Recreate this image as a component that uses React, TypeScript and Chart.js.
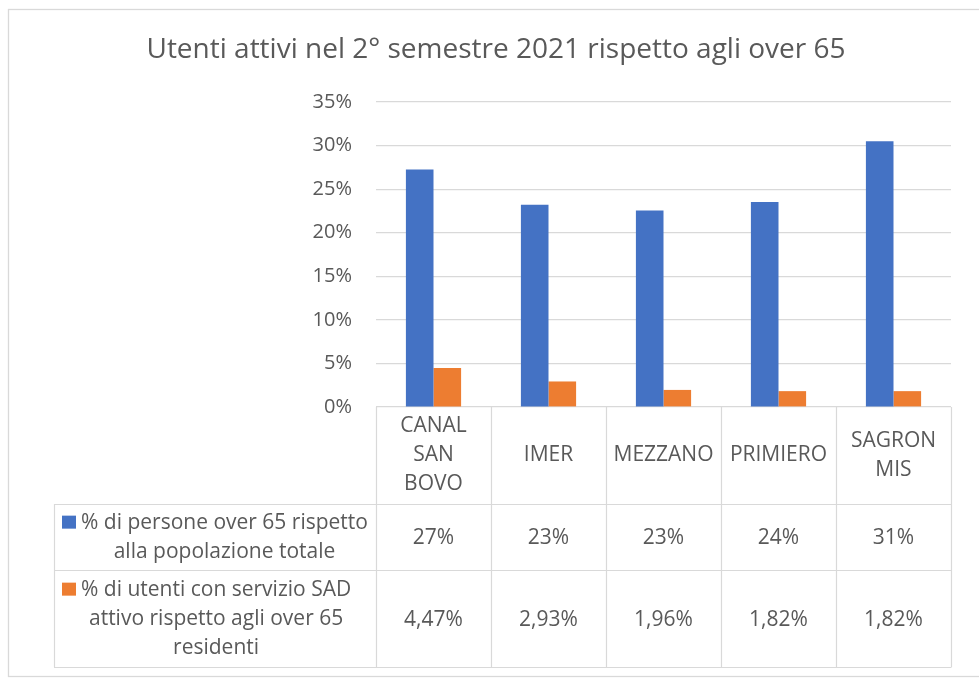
import React, { useEffect, useRef } from "react";
import { Chart, registerables } from "chart.js";

Chart.register(...registerables);

const TITLE = "Utenti attivi nel 2° semestre 2021 rispetto agli over 65";
const categories: string[][] = [["CANAL", "SAN", "BOVO"], ["IMER"], ["MEZZANO"], ["PRIMIERO"], ["SAGRON", "MIS"]];
const over65Share = [27.25, 23.2, 22.55, 23.52, 30.5];
const sadShare = [4.47, 2.93, 1.96, 1.82, 1.82];
const seriesNames: string[][] = [
  ["% di persone over 65 rispetto", "alla popolazione totale"],
  ["% di utenti con servizio SAD", "attivo rispetto agli over 65", "residenti"],
];
const seriesColors = ["#4472C4", "#ED7D31"];
const yMin = 0;
const yMax = 35;
const yStep = 5;

const FONT = "'Open Sans', sans-serif";
const TEXT = "#595959";
const LINE = "#d9d9d9";

const fmtWhole = (v: number) => Math.round(v) + "%";
const fmtTwo = (v: number) => v.toFixed(2).replace(".", ",") + "%";

const tablePlugin = {
  id: "dataTable",
  beforeDraw(chart: any) {
    const ctx = chart.ctx;
    ctx.save();
    ctx.fillStyle = "#ffffff";
    ctx.fillRect(0, 0, chart.width, chart.height);
    ctx.strokeStyle = LINE;
    ctx.lineWidth = 1.3;
    ctx.strokeRect(8.5, 9.5, 1000, 667);
    ctx.fillStyle = TEXT;
    ctx.font = `28px ${FONT}`;
    ctx.textAlign = "center";
    ctx.textBaseline = "middle";
    ctx.fillText(TITLE, 496, 50);
    ctx.restore();
  },
  afterDraw(chart: any) {
    const { ctx, chartArea } = chart;
    const x = chart.scales.x;
    const n = categories.length;
    const colW = chartArea.width / n;
    const top = chartArea.bottom;
    const rows = [top, top + 97, top + 163.3, top + 260];
    const legendLeft = 54;
    const lh = 29;
    ctx.save();
    ctx.strokeStyle = LINE;
    ctx.lineWidth = 1.2;
    for (let i = 0; i <= n; i++) {
      const xx = Math.round(chartArea.left + i * colW) + 0.5;
      ctx.beginPath();
      ctx.moveTo(xx, top);
      ctx.lineTo(xx, rows[3]);
      ctx.stroke();
    }
    ctx.beginPath();
    ctx.moveTo(legendLeft + 0.5, rows[1]);
    ctx.lineTo(legendLeft + 0.5, rows[3]);
    ctx.stroke();
    for (let r = 1; r <= 3; r++) {
      const yy = Math.round(rows[r]) + 0.5;
      ctx.beginPath();
      ctx.moveTo(legendLeft, yy);
      ctx.lineTo(chartArea.right + 0.5, yy);
      ctx.stroke();
    }
    ctx.fillStyle = TEXT;
    ctx.font = `21px ${FONT}`;
    ctx.textAlign = "center";
    ctx.textBaseline = "middle";
    categories.forEach((lines, i) => {
      const cx = x.getPixelForValue(i);
      const cy = (rows[0] + rows[1]) / 2;
      lines.forEach((t, k) => {
        ctx.fillText(t, cx, cy + (k - (lines.length - 1) / 2) * lh);
      });
    });
    const seriesData = [over65Share.map(fmtWhole), sadShare.map(fmtTwo)];
    seriesData.forEach((vals, r) => {
      const cy = (rows[r + 1] + rows[r + 2]) / 2;
      vals.forEach((t, i) => {
        ctx.fillText(t, x.getPixelForValue(i), cy + 1);
      });
      const lines = seriesNames[r];
      const blockLeft = 81;
      const w = Math.max(...lines.map((l) => ctx.measureText(l).width));
      const firstY = cy - ((lines.length - 1) / 2) * lh;
      lines.forEach((t, k) => {
        ctx.fillText(t, blockLeft + w / 2, firstY + k * lh);
      });
      ctx.fillStyle = seriesColors[r];
      ctx.fillRect(62, firstY - 7, 14, 13);
      ctx.fillStyle = TEXT;
    });
    ctx.restore();
  },
};

export default function App() {
  const ref = useRef<HTMLCanvasElement | null>(null);
  useEffect(() => {
    if (!ref.current) return;
    const chart = new Chart(ref.current, {
      type: "bar",
      data: {
        labels: categories.map((c) => c.join(" ")),
        datasets: [
          { label: seriesNames[0].join(" "), data: over65Share, backgroundColor: seriesColors[0] },
          { label: seriesNames[1].join(" "), data: sadShare, backgroundColor: seriesColors[1] },
        ],
      },
      options: {
        responsive: false,
        animation: false,
        devicePixelRatio: 1,
        layout: { padding: { left: 0, top: 102, right: 28, bottom: 264 } },
        datasets: { bar: { categoryPercentage: 0.48, barPercentage: 1 } },
        plugins: { legend: { display: false }, tooltip: { enabled: false }, title: { display: false } },
        scales: {
          x: {
            grid: { display: false },
            border: { display: false },
            ticks: { display: false },
          },
          y: {
            min: yMin,
            max: yMax,
            afterFit: (s: any) => {
              s.width = 376;
            },
            ticks: {
              stepSize: yStep,
              padding: 24,
              color: TEXT,
              font: { family: FONT, size: 20 },
              callback: (v: any) => v + "%",
            },
            grid: { color: LINE, drawTicks: false, lineWidth: 1.2 },
            border: { display: false },
          },
        },
      },
      plugins: [tablePlugin],
    });
    return () => chart.destroy();
  }, []);
  return (
    <div style={{ position: "fixed", left: 0, top: 0, width: 979, height: 679, background: "#fff" }}>
      <canvas ref={ref} width={979} height={679} />
    </div>
  );
}
